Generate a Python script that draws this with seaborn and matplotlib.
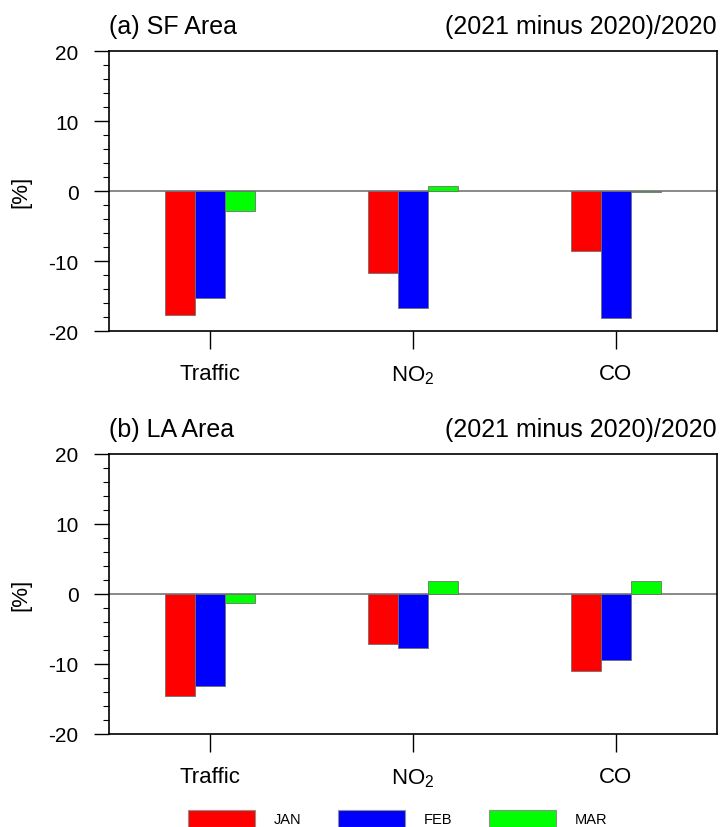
import matplotlib
matplotlib.use("Agg")
import matplotlib.pyplot as plt
from matplotlib.patches import Patch
from matplotlib.ticker import MultipleLocator
import seaborn as sns
import pandas as pd

# ---- data ----
categories = ["Traffic", "NO$_2$", "CO"]
months = ["JAN", "FEB", "MAR"]
sf_jan = [-17.7, -11.7, -8.5]
sf_feb = [-15.3, -16.7, -18.1]
sf_mar = [-2.9, 0.7, -0.2]
la_jan = [-14.6, -7.1, -11.0]
la_feb = [-13.2, -7.7, -9.4]
la_mar = [-1.3, 1.8, 1.8]
panel_titles = ["(a) SF Area", "(b) LA Area"]
right_title = "(2021 minus 2020)/2020"
colors = ["#ff0000", "#0000ff", "#00ff00"]


def to_long(jan, feb, mar):
    rows = []
    for m, vals in zip(months, [jan, feb, mar]):
        for c, v in zip(categories, vals):
            rows.append({"category": c, "month": m, "value": v})
    return pd.DataFrame(rows)


dfs = [to_long(sf_jan, sf_feb, sf_mar), to_long(la_jan, la_feb, la_mar)]

sns.set_style("ticks")
plt.rcParams["font.family"] = ["Liberation Sans", "DejaVu Sans"]
plt.rcParams["mathtext.fontset"] = "custom"
plt.rcParams["mathtext.rm"] = "Liberation Sans"
plt.rcParams["mathtext.it"] = "Liberation Sans:italic"
plt.rcParams["mathtext.default"] = "regular"
plt.rcParams["axes.unicode_minus"] = False
for key in ["text.color", "axes.labelcolor", "xtick.color", "ytick.color",
            "axes.edgecolor"]:
    plt.rcParams[key] = "black"

fig = plt.figure(figsize=(7.2, 8.28), dpi=100)
ax_top = fig.add_axes([109 / 720, 1 - 332 / 828, 608 / 720, 280 / 828])
ax_bot = fig.add_axes([109 / 720, 1 - 735 / 828, 608 / 720, 280 / 828])
palette = dict(zip(months, colors))

for ax, df, title in zip([ax_top, ax_bot], dfs, panel_titles):
    ax.axhline(0, color="#808080", lw=1.3, zorder=1)
    sns.barplot(data=df, x="category", y="value", hue="month", order=categories,
                hue_order=months, palette=palette, saturation=1, width=0.443,
                errorbar=None, edgecolor="#707070", linewidth=0.6, legend=False,
                ax=ax, zorder=2)
    ax.set_xlim(-0.5, 2.5)
    ax.set_ylim(-20, 20)
    ax.yaxis.set_major_locator(MultipleLocator(10))
    ax.yaxis.set_minor_locator(MultipleLocator(2))
    ax.tick_params(axis="y", which="major", direction="out", length=11, width=1.0,
                   pad=11, labelsize=15, colors="black")
    ax.tick_params(axis="y", which="minor", direction="out", length=4.5, width=0.8,
                   colors="black")
    ax.tick_params(axis="x", which="major", direction="out", length=13, width=1.0,
                   pad=10, labelsize=16, colors="black")
    for s in ax.spines.values():
        s.set_visible(True)
        s.set_linewidth(1.2)
        s.set_color("black")
    ax.set_xlabel("")
    ax.set_ylabel("[%]", fontsize=16, color="black")
    ax.yaxis.set_label_coords(-0.127, 0.5)
    ax.set_title(title, loc="left", fontsize=18, pad=13, color="black")
    ax.set_title(right_title, loc="right", fontsize=18, pad=13, color="black")

handles = [Patch(facecolor=c, edgecolor="#909090", linewidth=0.8) for c in colors]
fig.legend(handles, months, loc="lower left", bbox_to_anchor=(188 / 720, 0.0),
           ncol=3, frameon=False, fontsize=10.5, handlelength=4.6, handleheight=1.4,
           handletextpad=1.3, columnspacing=2.5, borderpad=0.0, borderaxespad=0.0,
           labelcolor="black")

fig.savefig("out.png", dpi=100)
